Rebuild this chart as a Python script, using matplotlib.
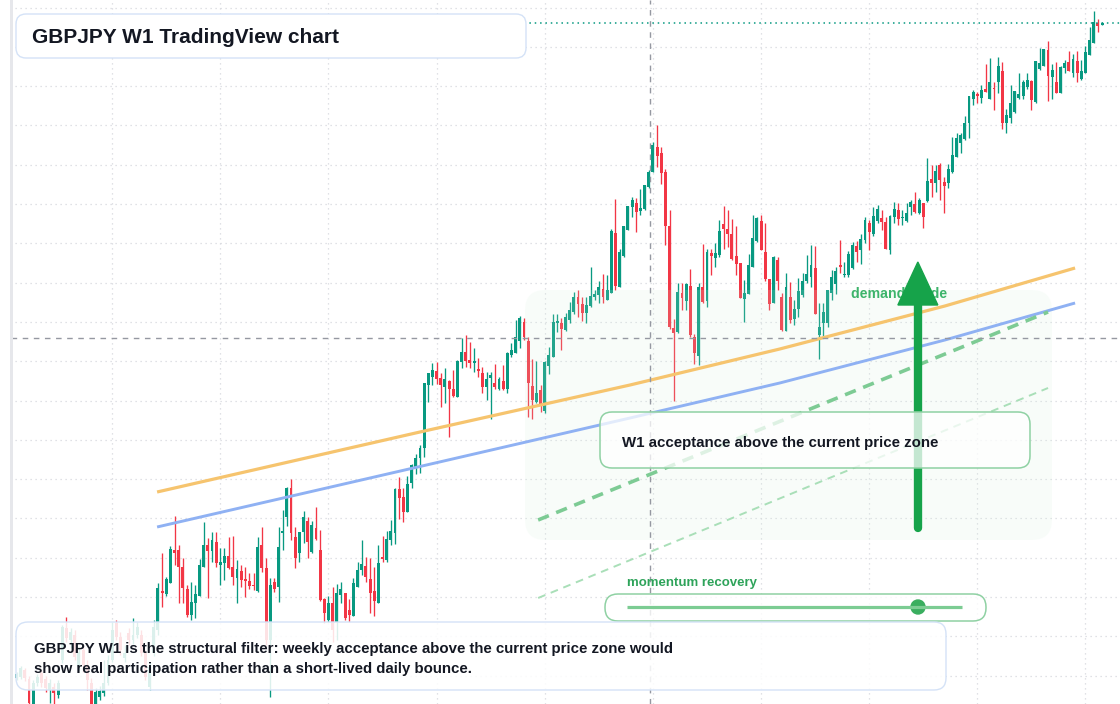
import matplotlib
matplotlib.use('Agg')
import matplotlib.pyplot as plt
from matplotlib.patches import FancyBboxPatch, Polygon, Circle, Rectangle

plt.rcParams['font.family'] = ['Liberation Sans', 'DejaVu Sans']

# GBPJPY weekly candles (oldest first)
opens = [132.2, 132.3, 133.0, 132.1, 129.0, 131.7, 132.7, 132.1, 131.0, 131.3,
         130.5, 134.0, 137.2, 136.0, 136.5, 133.3, 135.0, 133.5, 131.7, 129.6,
         130.3, 130.7, 131.7, 134.0, 137.7, 136.3, 134.2, 136.7, 136.0, 136.5,
         136.5, 134.7, 131.3, 134.7, 137.0, 140.9, 140.6, 141.7, 145.0, 145.0,
         143.3, 141.1, 138.5, 139.7, 140.4, 143.3, 145.5, 144.9, 145.8, 143.5,
         143.7, 144.4, 143.3, 142.2, 142.9, 142.1, 141.9, 141.5, 140.9, 145.5,
         143.2, 136.0, 141.8, 141.3, 146.7, 148.3, 151.2, 146.3, 144.7, 146.8,
         147.9, 144.8, 147.2, 145.0, 140.1, 138.0, 139.7, 137.8, 140.5, 140.7,
         139.0, 138.4, 141.3, 143.0, 143.4, 142.1, 140.9, 139.7, 144.3, 144.0,
         146.0, 146.7, 151.1, 150.3, 148.8, 151.7, 153.3, 154.2, 155.2, 161.5,
         162.3, 162.9, 162.2, 161.3, 161.9, 161.1, 160.3, 163.8, 164.8, 164.0,
         163.7, 163.1, 162.7, 161.3, 162.2, 161.7, 161.1, 161.9, 161.1, 164.5,
         164.7, 165.9, 167.8, 165.9, 161.4, 159.8, 161.0, 158.9, 163.4, 164.3,
         167.7, 167.7, 167.0, 168.0, 168.8, 170.3, 169.6, 168.7, 169.4, 170.3,
         170.5, 171.1, 170.0, 170.7, 176.7, 171.3, 174.4, 177.0, 179.3, 179.7,
         178.9, 179.1, 181.3, 182.8, 185.3, 184.7, 182.8, 177.4, 167.2, 166.8,
         170.7, 169.9, 171.4, 166.3, 164.4, 171.3, 169.9, 174.7, 174.2, 174.5,
         177.6, 177.1, 176.6, 174.4, 173.7, 170.1, 170.6, 173.3, 175.9, 177.9,
         174.8, 172.1, 169.7, 174.0, 170.3, 166.9, 170.3, 168.1, 169.1, 170.5,
         171.9, 172.3, 173.2, 166.5, 167.7, 167.7, 170.7, 171.6, 173.5, 172.5,
         172.5, 173.2, 175.4, 175.0, 176.0, 177.7, 176.6, 177.9, 178.2, 177.8,
         175.0, 178.3, 179.0, 178.2, 177.9, 179.3, 179.6, 178.7, 179.7, 179.9,
         182.1, 181.7, 183.5, 181.8, 181.7, 182.8, 184.3, 185.7, 186.1, 187.7,
         190.1, 190.6, 190.2, 191.1, 190.1, 191.2, 191.8, 192.9, 187.7, 188.2,
         188.8, 190.2, 190.4, 191.3, 191.9, 189.8, 193.1, 193.4, 195.0, 192.3,
         191.8, 190.7, 193.2, 193.8, 192.7, 193.9, 192.1, 192.7, 194.5, 195.7,
         197.7, 197.5]
highs = [132.8, 133.4, 133.2, 132.4, 132.0, 132.6, 133.0, 132.4, 132.1, 131.7,
         132.0, 137.5, 138.3, 137.2, 137.0, 135.2, 135.5, 134.0, 132.2, 131.2,
         131.4, 134.0, 134.5, 137.8, 138.0, 136.8, 135.5, 137.2, 138.2, 137.8,
         137.0, 135.0, 133.8, 138.0, 141.7, 144.7, 142.3, 145.4, 148.4, 145.5,
         144.2, 141.5, 141.8, 141.5, 144.1, 147.8, 146.2, 146.8, 146.8, 145.2,
         145.2, 146.3, 146.4, 144.0, 143.5, 143.3, 142.7, 142.7, 146.3, 147.3,
         144.2, 142.2, 142.2, 147.3, 149.0, 151.3, 152.1, 147.3, 146.8, 148.9,
         148.3, 147.9, 149.3, 147.0, 140.2, 140.4, 141.3, 141.6, 141.8, 140.7,
         140.1, 142.2, 143.8, 146.0, 144.3, 144.2, 143.3, 145.5, 146.4, 146.9,
         148.0, 151.2, 152.3, 151.2, 152.4, 153.6, 154.6, 155.5, 161.7, 162.7,
         163.7, 163.8, 162.7, 163.2, 162.0, 163.0, 164.0, 166.2, 166.5, 165.8,
         165.2, 164.2, 163.3, 162.8, 162.8, 163.6, 162.3, 163.5, 164.8, 165.7,
         168.0, 168.4, 168.2, 166.3, 164.1, 163.9, 161.5, 163.9, 165.3, 168.6,
         168.6, 168.2, 168.7, 169.8, 170.8, 171.0, 170.3, 170.3, 173.3, 171.0,
         171.9, 172.6, 172.5, 177.1, 180.1, 175.1, 177.4, 179.4, 180.3, 180.2,
         181.1, 181.5, 183.0, 185.8, 187.5, 185.3, 183.1, 179.0, 168.1, 171.7,
         171.7, 171.7, 173.1, 166.6, 171.7, 175.6, 175.1, 175.1, 175.7, 178.0,
         179.4, 179.0, 178.1, 177.4, 173.7, 172.0, 174.6, 178.5, 178.3, 178.5,
         177.7, 172.1, 174.4, 174.3, 170.7, 172.7, 171.8, 170.0, 172.2, 172.7,
         174.5, 175.5, 175.4, 169.7, 169.7, 171.0, 173.0, 173.3, 176.0, 173.8,
         174.9, 175.8, 175.9, 176.6, 178.3, 178.0, 179.3, 179.5, 179.0, 178.3,
         178.5, 179.8, 179.7, 179.0, 179.7, 180.0, 180.8, 180.2, 179.7, 184.2,
         183.5, 183.5, 183.7, 182.3, 183.6, 186.3, 186.7, 186.7, 188.4, 190.4,
         191.0, 190.8, 191.5, 193.6, 194.2, 191.8, 194.3, 193.8, 189.1, 191.5,
         190.9, 192.7, 192.0, 192.7, 192.0, 193.9, 195.2, 195.1, 195.9, 193.6,
         193.8, 193.4, 194.0, 194.9, 194.6, 194.9, 194.0, 195.4, 197.3, 198.9,
         198.1, 197.8]
lows = [132.0, 132.1, 131.9, 128.8, 128.8, 131.4, 131.3, 130.8, 129.7, 129.6,
        130.2, 133.7, 135.8, 135.2, 134.0, 133.0, 132.8, 131.0, 129.0, 129.2,
        130.0, 130.4, 131.5, 133.8, 136.0, 134.5, 133.8, 135.5, 135.6, 136.2,
        134.4, 132.0, 131.0, 134.4, 136.5, 139.3, 140.4, 141.7, 143.5, 139.7,
        139.7, 138.3, 138.0, 138.2, 140.4, 143.3, 140.2, 143.8, 143.3, 141.5,
        142.0, 143.1, 141.5, 139.7, 141.3, 140.3, 141.1, 141.0, 140.8, 142.8,
        135.5, 130.3, 140.8, 139.8, 145.0, 147.4, 146.0, 143.2, 143.8, 145.7,
        144.2, 144.7, 146.0, 139.9, 137.7, 137.8, 135.8, 136.0, 139.7, 138.0,
        137.8, 138.4, 141.3, 142.5, 141.8, 138.7, 138.4, 139.7, 143.8, 143.8,
        145.5, 145.6, 148.1, 147.8, 148.8, 151.2, 152.6, 152.7, 154.3, 159.8,
        161.5, 161.6, 159.3, 159.7, 156.3, 160.3, 160.3, 163.2, 163.3, 163.2,
        162.8, 162.3, 160.7, 160.0, 158.1, 161.1, 161.0, 161.0, 160.7, 164.3,
        164.7, 165.2, 166.0, 158.3, 158.1, 159.7, 158.8, 158.7, 162.6, 164.3,
        166.8, 165.0, 166.9, 167.7, 168.6, 168.3, 167.9, 167.7, 169.3, 170.0,
        169.7, 169.7, 170.0, 170.7, 171.0, 171.3, 174.3, 177.0, 178.3, 176.8,
        178.5, 179.0, 181.2, 182.8, 183.3, 181.6, 175.5, 167.1, 159.9, 166.7,
        169.0, 169.0, 166.3, 163.6, 163.5, 169.7, 169.3, 172.5, 173.3, 174.3,
        175.1, 175.3, 174.0, 172.5, 170.2, 167.8, 170.6, 173.3, 175.8, 175.0,
        171.9, 169.0, 169.7, 171.0, 166.9, 166.9, 167.7, 167.5, 168.3, 170.3,
        171.7, 171.3, 168.6, 164.1, 166.3, 167.3, 170.0, 170.6, 172.7, 172.3,
        172.3, 173.1, 173.8, 173.6, 175.7, 175.0, 176.4, 177.7, 177.0, 175.1,
        174.6, 177.7, 177.5, 177.5, 177.8, 178.5, 178.7, 178.6, 177.2, 179.8,
        180.3, 180.8, 180.0, 178.7, 181.2, 182.7, 184.3, 184.7, 186.0, 186.2,
        189.5, 189.7, 189.7, 190.8, 190.1, 189.0, 190.7, 187.1, 186.7, 187.7,
        188.7, 190.1, 190.1, 191.1, 189.0, 189.7, 193.0, 193.4, 189.9, 190.1,
        190.7, 190.7, 192.7, 192.9, 192.3, 191.8, 192.0, 192.7, 194.5, 195.7,
        196.8, 197.5]
closes = [132.6, 133.2, 132.2, 129.7, 131.7, 132.3, 131.7, 131.2, 131.7, 130.7,
          131.7, 137.3, 136.2, 136.8, 134.3, 134.8, 133.5, 132.0, 129.6, 130.8,
          130.9, 131.7, 134.0, 137.0, 136.3, 135.0, 134.7, 136.0, 136.5, 137.3,
          134.7, 132.3, 133.3, 137.3, 141.2, 140.7, 142.1, 145.1, 144.7, 143.3,
          141.2, 138.5, 139.8, 140.6, 143.5, 145.5, 144.9, 146.0, 143.7, 143.8,
          144.4, 143.2, 142.3, 143.1, 142.0, 141.9, 141.4, 141.4, 145.3, 143.2,
          136.0, 141.5, 141.1, 145.3, 146.9, 151.2, 146.7, 144.2, 146.8, 148.3,
          145.8, 147.5, 146.1, 140.0, 138.7, 139.7, 137.0, 140.7, 141.1, 138.2,
          138.5, 141.7, 143.0, 143.6, 142.3, 140.7, 139.9, 143.7, 144.1, 146.1,
          146.9, 151.1, 150.2, 148.8, 151.6, 153.5, 154.2, 155.2, 161.7, 162.7,
          163.0, 162.1, 161.5, 162.1, 161.1, 160.4, 163.9, 164.8, 163.9, 163.7,
          163.9, 162.9, 161.3, 162.1, 162.5, 161.3, 162.1, 161.1, 164.7, 165.0,
          166.3, 168.2, 166.3, 161.7, 160.0, 160.7, 159.4, 163.8, 164.5, 167.8,
          167.9, 167.1, 168.3, 169.0, 170.3, 169.6, 168.7, 169.5, 170.4, 170.6,
          171.3, 170.3, 171.0, 176.9, 171.4, 174.8, 177.4, 179.4, 180.0, 178.8,
          179.2, 181.5, 182.8, 185.5, 184.4, 182.7, 177.4, 167.3, 166.7, 170.8,
          170.2, 171.6, 166.5, 164.7, 171.3, 169.8, 174.8, 174.4, 174.7, 176.9,
          177.1, 176.6, 174.1, 173.6, 170.2, 170.7, 173.5, 176.2, 178.2, 175.0,
          172.1, 169.6, 174.3, 171.9, 167.0, 171.3, 168.0, 169.1, 170.9, 171.9,
          172.6, 173.5, 168.6, 167.3, 168.8, 171.0, 172.3, 172.9, 173.3, 172.6,
          174.6, 175.5, 174.8, 176.1, 178.0, 176.8, 178.4, 179.1, 177.8, 175.1,
          178.4, 179.1, 178.1, 178.3, 178.7, 179.8, 178.8, 180.0, 178.3, 181.9,
          181.7, 182.9, 182.0, 181.4, 183.1, 184.5, 186.2, 186.5, 187.7, 190.4,
          190.8, 190.4, 191.0, 190.8, 191.8, 191.1, 193.4, 187.7, 188.5, 189.7,
          190.9, 190.6, 191.8, 192.0, 190.0, 193.9, 193.7, 195.1, 192.4, 193.0,
          190.7, 193.3, 193.7, 192.9, 194.1, 192.7, 192.9, 194.8, 196.0, 197.8,
          197.4, 197.7]

# moving averages (anchor points: bar index, price)
ma_idx = [33.8, 97.0, 147.5, 183.5, 223.2, 254.5]
ma_fast = [150.8, 156.8, 161.5, 165.1, 169.4, 173.2]
ma_slow = [147.3, 153.35, 158.2, 161.7, 166.0, 169.7]

# projected channel (dashed guides)
guide_idx = [125.4, 248.0]
guide_upper = [148.0, 168.8]
guide_lower = [140.2, 161.2]

# demand arrow and crosshair
arrow_idx = 216.7
arrow_from, arrow_head, arrow_tip = 147.2, 169.5, 173.8
cross_idx, cross_price = 152.3, 166.2

GREEN, RED = '#089981', '#f23645'
INK = '#131722'

fig = plt.figure(figsize=(11.2, 7.04), dpi=100)
ax = fig.add_axes([0, 0, 1, 1])
ax.set_xlim(-3.97, 265.3)
ax.set_ylim(129.6, 200)
ax.axis('off')

# overlay in pixel units for the boxes and labels
ov = fig.add_axes([0, 0, 1, 1], zorder=5)
ov.set_xlim(0, 1120)
ov.set_ylim(704, 0)
ov.axis('off')

# grid
for k in range(18):
    ax.axhline(199.25 - 3.93 * k, color='#d6d8de', lw=0.9, ls=(0, (1, 3)), zorder=0.5)
for i in range(-3, 262, 26):
    ax.axvline(i, color='#d6d8de', lw=0.9, ls=(0, (1, 3)), zorder=0.5)

# candles
xs = list(range(len(closes)))
cols = [GREEN if c >= o else RED for o, c in zip(opens, closes)]
ax.vlines(xs, lows, highs, colors=cols, lw=0.95, zorder=2)
bottoms = [min(o, c) for o, c in zip(opens, closes)]
heights = [max(abs(c - o), 0.13) for o, c in zip(opens, closes)]
ax.bar(xs, heights, width=0.7, bottom=bottoms, color=cols, linewidth=0, zorder=3)

# last price line
ax.axhline(closes[-1], color=GREEN, lw=1.1, ls=(0, (1, 2.5)), zorder=3.5)

# demand zone shading
ax.add_patch(FancyBboxPatch((525, 290), 527, 250, boxstyle='round,pad=0,rounding_size=20',
                            transform=ov.transData, fc=(0.83, 0.94, 0.86, 0.14), ec='none', zorder=4))

# moving averages
ax.plot(ma_idx, ma_fast, color='#f6c46e', lw=2.3, zorder=5, solid_capstyle='butt')
ax.plot(ma_idx, ma_slow, color='#8fb1f3', lw=2.1, zorder=5, solid_capstyle='butt')

# dashed guides
ax.plot(guide_idx, guide_upper, color='#7dcb94', lw=2.6, ls=(0, (3.2, 2.2)), zorder=5)
ax.plot(guide_idx, guide_lower, color='#a9dfb8', lw=1.4, ls=(0, (4, 3)), zorder=5)

# crosshair
ax.axhline(cross_price, color='#9598a1', lw=1, ls=(0, (4, 4)), zorder=6)
ax.axvline(cross_idx, color='#9598a1', lw=1, ls=(0, (4, 4)), zorder=6)

# demand guide label + arrow
ax.text(851, 294, 'demand guide', transform=ov.transData, color='#3db46b', fontsize=10.2,
        fontweight='bold', va='center', ha='left', zorder=6.5)
ax.plot([arrow_idx, arrow_idx], [arrow_from, arrow_head], color='#16a34a', lw=6,
        solid_capstyle='round', zorder=7)
ax.add_patch(Polygon([(arrow_idx - 4.8, arrow_head), (arrow_idx + 4.8, arrow_head),
                      (arrow_idx, arrow_tip)], closed=True, color='#16a34a', zorder=7))

# left edge strip
ov.add_patch(Rectangle((0, 0), 10, 704, fc='white', ec='none'))
ov.add_patch(Rectangle((10, 0), 3, 704, fc='#e6e7eb', ec='none'))

# title box
ov.add_patch(FancyBboxPatch((16, 14), 510, 44, boxstyle='round,pad=0,rounding_size=10',
                            fc='white', ec='#d4e2f7', lw=1))
ov.text(32, 37.5, 'GBPJPY W1 TradingView chart', fontsize=15, fontweight='bold',
        color=INK, va='center', ha='left')

# acceptance box
ov.add_patch(FancyBboxPatch((600, 412), 430, 56, boxstyle='round,pad=0,rounding_size=12',
                            fc=(1, 1, 1, 0.75), ec='#8fd1a3', lw=1.1))
ov.text(622, 442.5, 'W1 acceptance above the current price zone', fontsize=10.8,
        fontweight='bold', color=INK, va='center', ha='left')

# momentum slider
ov.text(627, 583, 'momentum recovery', fontsize=9.5, fontweight='bold',
        color='#2ea35a', va='center', ha='left')
ov.add_patch(FancyBboxPatch((605, 594), 381, 27, boxstyle='round,pad=0,rounding_size=13',
                            fc=(1, 1, 1, 0.8), ec='#8fd1a3', lw=1.1))
ov.plot([627, 962], [607, 607], color='#7ccc93', lw=2.3, solid_capstyle='butt')
ov.add_patch(Circle((918, 607), 7, color='#3aae5f'))

# commentary box
ov.add_patch(FancyBboxPatch((16, 622), 930, 68, boxstyle='round,pad=0,rounding_size=12',
                            fc=(1, 1, 1, 0.86), ec='#d4e2f7', lw=1))
ov.text(34, 649.5, 'GBPJPY W1 is the structural filter: weekly acceptance above the current price zone would',
        fontsize=10.8, fontweight='bold', color=INK, va='center', ha='left')
ov.text(34, 669.5, 'show real participation rather than a short-lived daily bounce.',
        fontsize=10.8, fontweight='bold', color=INK, va='center', ha='left')

fig.savefig('out.png', dpi=100, facecolor='white')
